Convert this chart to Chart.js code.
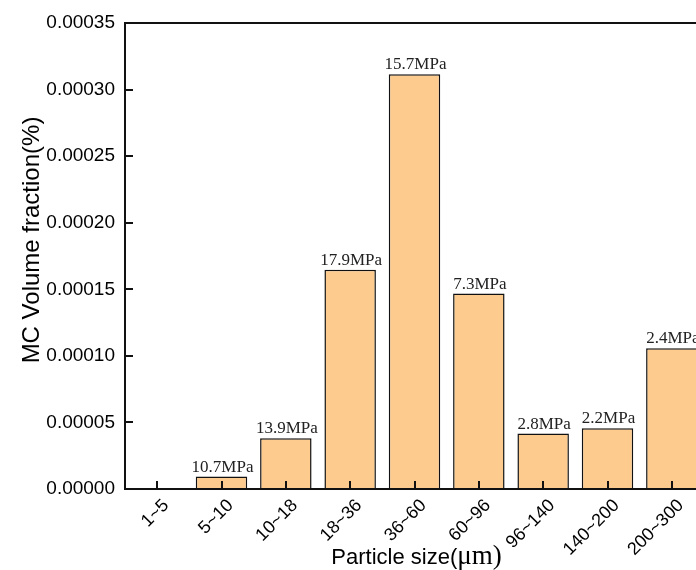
<!DOCTYPE html>
<html lang="en">
<head>
<meta charset="UTF-8">
<title>MC Volume fraction</title>
<script src="https://cdn.jsdelivr.net/npm/chart.js"></script>
<style>
  html, body { margin: 0; padding: 0; background: #fff; overflow: hidden; }
  #wrap { width: 710px; height: 570px; }
</style>
</head>
<body>
<div id="wrap"><canvas id="chart" width="710" height="570"></canvas></div>
<script>
// size classes (µm) and MC volume fraction
const categories = ['1~5', '5~10', '10~18', '18~36', '36~60', '60~96', '96~140', '140~200', '200~300'];
const volumeFraction = [0, 0.0000093, 0.0000381, 0.0001647, 0.0003115, 0.0001468, 0.0000416, 0.0000456, 0.0001058];
const strengthLabels = ['', '10.7MPa', '13.9MPa', '17.9MPa', '15.7MPa', '7.3MPa', '2.8MPa', '2.2MPa', '2.4MPa'];
const yMin = 0;
const yMax = 0.00035;
const yStep = 0.00005;

const barFill = '#fecb8f';
const ink = '#111';

// frame, inward ticks, bar annotations and axis titles
const decorPlugin = {
  id: 'decor',
  afterDatasetsDraw(chart) {
    const { ctx, chartArea: a, scales: { x, y } } = chart;
    ctx.save();
    ctx.strokeStyle = ink;
    ctx.lineWidth = 2;
    ctx.beginPath();
    x.ticks.forEach((t, i) => {
      const px = Math.round(x.getPixelForTick(i));
      ctx.moveTo(px, a.bottom);
      ctx.lineTo(px, a.bottom - 8);
    });
    y.ticks.forEach((t, i) => {
      const py = Math.round(y.getPixelForTick(i));
      ctx.moveTo(a.left, py);
      ctx.lineTo(a.left + 8, py);
    });
    ctx.stroke();

    ctx.strokeRect(a.left, a.top, a.right - a.left, a.bottom - a.top);

    ctx.font = '17px "Liberation Serif", serif';
    ctx.fillStyle = '#222';
    ctx.textAlign = 'center';
    ctx.textBaseline = 'alphabetic';
    chart.getDatasetMeta(0).data.forEach((bar, i) => {
      if (strengthLabels[i]) ctx.fillText(strengthLabels[i], bar.x + 1, bar.y - 5);
    });

    // y title
    ctx.fillStyle = '#000';
    ctx.save();
    ctx.translate(39, 240);
    ctx.rotate(-Math.PI / 2);
    ctx.font = '24px "Liberation Sans", Arial, sans-serif';
    ctx.textAlign = 'center';
    ctx.fillText('MC Volume fraction(%)', 0, 0);
    ctx.restore();

    // x title (mixed fonts like the original)
    const partA = 'Particle size(';
    const partB = 'μm)';
    const fontA = '22px "Liberation Sans", Arial, sans-serif';
    const fontB = '27px "Liberation Serif", serif';
    ctx.font = fontA;
    const wA = ctx.measureText(partA).width;
    ctx.font = fontB;
    const wB = ctx.measureText(partB).width;
    const cx = (a.left + a.right) / 2 + 2;
    const sx = cx - (wA + wB) / 2;
    ctx.textAlign = 'left';
    ctx.font = fontA;
    ctx.fillText(partA, sx, 564);
    ctx.font = fontB;
    ctx.fillText(partB, sx + wA, 564);
    ctx.restore();
  }
};

new Chart(document.getElementById('chart'), {
  type: 'bar',
  data: {
    labels: categories,
    datasets: [{
      data: volumeFraction,
      backgroundColor: barFill,
      borderColor: ink,
      borderWidth: 1.5,
      barPercentage: 0.8,
      categoryPercentage: 1.0
    }]
  },
  options: {
    responsive: false,
    animation: false,
    devicePixelRatio: 1,
    layout: { padding: { left: 0, top: 23, right: 6, bottom: 0 } },
    plugins: { legend: { display: false }, tooltip: { enabled: false } },
    scales: {
      x: {
        grid: { display: false, drawTicks: false },
        border: { display: false },
        ticks: {
          color: '#000',
          font: { family: '"Liberation Sans", Arial, sans-serif', size: 18 },
          minRotation: 45,
          maxRotation: 45,
          padding: 6,
          labelOffset: 9,
          autoSkip: false
        },
        afterFit(scale) { scale.height = 81; }
      },
      y: {
        min: yMin,
        max: yMax,
        grid: { display: false, drawTicks: false },
        border: { display: false },
        ticks: {
          stepSize: yStep,
          color: '#000',
          font: { family: '"Liberation Sans", Arial, sans-serif', size: 19 },
          padding: 10,
          callback: v => v.toFixed(5)
        },
        afterFit(scale) { scale.width = 125; }
      }
    }
  },
  plugins: [decorPlugin]
});
</script>
</body>
</html>
